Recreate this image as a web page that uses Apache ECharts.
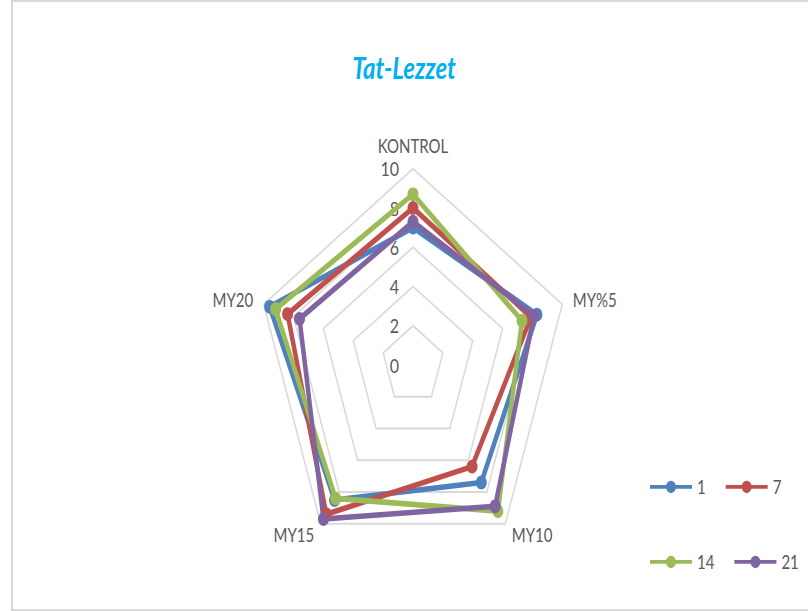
<!DOCTYPE html>
<html>
<head>
<meta charset="utf-8">
<script src="https://cdn.jsdelivr.net/npm/echarts@6/dist/echarts.min.js"></script>
<style>
  body { margin: 0; background: #fff; overflow: hidden; }
  #frame { position: absolute; left: 11px; top: 0; width: 820px; height: 607px;
           border: 2px solid #d9d9d9; border-right: none; }
  /* the source picture is stretched vertically, so the chart is too */
  #main { position: absolute; left: 0; top: 0; width: 808px; height: 489px;
          transform: scaleY(1.25); transform-origin: 0 0; }
</style>
</head>
<body>
<div id="frame"></div>
<div id="main"></div>
<script>
// data (clockwise from the top)
var categories = ['KONTROL', 'MY%5', 'MY10', 'MY15', 'MY20'];
var seriesNames = ['1', '7', '14', '21'];
var day1 = [7.0, 8.3, 7.4, 8.5, 9.6];
var day7 = [8.0, 7.9, 6.4, 9.4, 8.4];
var day14 = [8.7, 7.3, 9.2, 8.4, 9.2];
var day21 = [7.3, 8.1, 8.9, 9.7, 7.6];
var axisMax = 10;

var colors = ['#4F81BD', '#C0504D', '#9BBB59', '#8064A2'];
var values = [day1, day7, day14, day21];
var legendIcon = 'path://M0,3.5H42V6.5H0Z M16,5A5,5 0 1 1 26,5A5,5 0 1 1 16,5Z';

// echarts radar goes counter-clockwise, so flip the order after the first axis
function clockwise(arr) {
  return [arr[0]].concat(arr.slice(1).reverse());
}

var chartDom = document.getElementById('main');
var myChart = echarts.init(chartDom, null, { renderer: 'svg' });
var option;

var legendBase = {
  padding: 0,
  itemWidth: 42, itemHeight: 10, itemGap: 20, icon: legendIcon,
  selectedMode: false,
  itemStyle: { borderWidth: 0 },
  textStyle: { color: '#595959', fontSize: 15, fontFamily: 'Lato', width: 20 }
};

option = {
  animation: false,
  title: {
    text: 'Tat-Lezzet',
    left: 'center',
    top: 37,
    textStyle: { color: '#00B0F0', fontSize: 24, fontWeight: 'bold', fontStyle: 'italic', fontFamily: 'Lato' }
  },
  legend: [
    Object.assign({ data: [seriesNames[0], seriesNames[1]], left: 650, top: 382 }, legendBase),
    Object.assign({ data: [seriesNames[2], seriesNames[3]], left: 650, top: 442 }, legendBase)
  ],
  radar: {
    center: [413, 292],
    radius: 157,
    startAngle: 90,
    splitNumber: 5,
    shape: 'polygon',
    nameGap: 11,
    indicator: clockwise(categories).map(function (c, i) {
      return { name: c, min: 0, max: axisMax, axisLabel: { show: i === 0 } };
    }),
    axisName: { color: '#595959', fontSize: 15, fontFamily: 'Lato' },
    axisLine: { show: false },
    axisTick: { show: false },
    axisLabel: { show: true, color: '#595959', fontSize: 16, fontFamily: 'Lato', margin: 14 },
    splitLine: { lineStyle: { color: '#d9d9d9', width: 1.5 } },
    splitArea: { show: false }
  },
  series: [
    {
      type: 'radar',
      symbol: 'circle',
      symbolSize: 11,
      data: values.map(function (v, i) {
        return {
          name: seriesNames[i],
          value: clockwise(v),
          itemStyle: { color: colors[i] },
          lineStyle: { color: colors[i], width: 4.5 }
        };
      })
    }
  ]
};

option && myChart.setOption(option);
</script>
</body>
</html>
